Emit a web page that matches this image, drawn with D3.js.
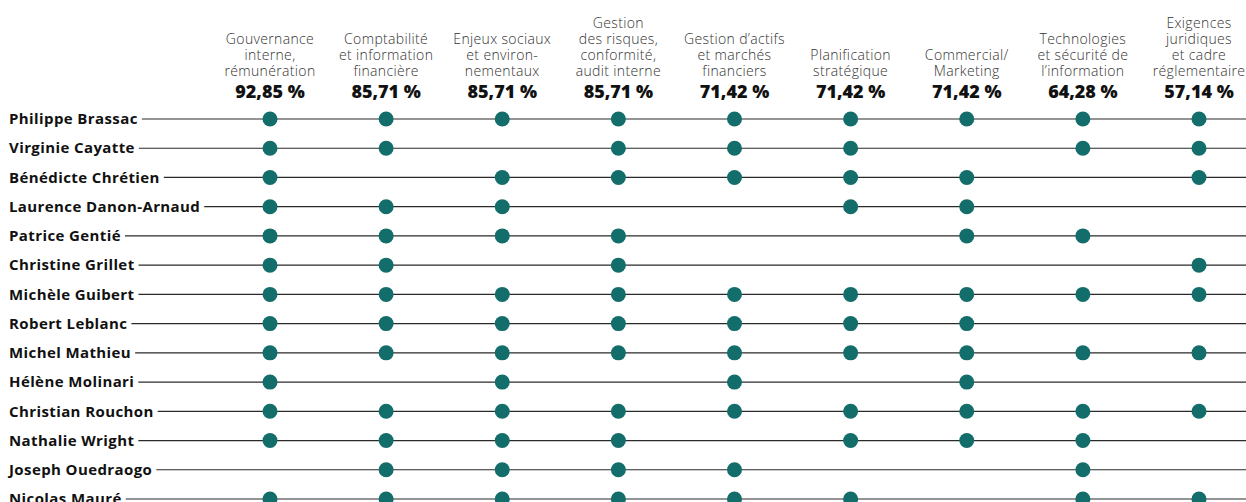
<!DOCTYPE html>
<html><head><meta charset="utf-8">
<script src="https://cdn.jsdelivr.net/npm/d3@7/dist/d3.min.js"></script>
<style>
html,body{margin:0;padding:0;background:#fff;}
svg{display:block;}
</style></head>
<body>
<svg id="chart" width="1246" height="502"></svg>
<script>
const categories = [
  ["Gouvernance","interne,","rémunération"],
  ["Comptabilité","et information","financière"],
  ["Enjeux sociaux","et environ-","nementaux"],
  ["Gestion","des risques,","conformité,","audit interne"],
  ["Gestion d’actifs","et marchés","financiers"],
  ["Planification","stratégique"],
  ["Commercial/","Marketing"],
  ["Technologies","et sécurité de","l’information"],
  ["Exigences","juridiques","et cadre","réglementaire"]
];
const percentages = ["92,85 %","85,71 %","85,71 %","85,71 %","71,42 %","71,42 %","71,42 %","64,28 %","57,14 %"];
const members = [
  "Philippe Brassac","Virginie Cayatte","Bénédicte Chrétien","Laurence Danon-Arnaud",
  "Patrice Gentié","Christine Grillet","Michèle Guibert","Robert Leblanc",
  "Michel Mathieu","Hélène Molinari","Christian Rouchon","Nathalie Wright",
  "Joseph Ouedraogo","Nicolas Mauré"
];
// 1 = competence present, per category (same order as categories)
const competences = [
  [1,1,1,1,1,1,1,1,1],
  [1,1,0,1,1,1,0,1,1],
  [1,0,1,1,1,1,1,0,1],
  [1,1,1,0,0,1,1,0,0],
  [1,1,1,1,0,0,1,1,0],
  [1,1,0,1,0,0,0,0,1],
  [1,1,1,1,1,1,1,1,1],
  [1,1,1,1,1,1,1,0,0],
  [1,1,1,1,1,1,1,1,1],
  [1,0,1,0,1,0,1,0,0],
  [1,1,1,1,1,1,1,1,1],
  [1,1,1,1,0,1,1,1,0],
  [0,1,1,1,1,0,0,1,0],
  [1,1,1,1,1,1,0,1,1]
];

const svg = d3.select("#chart");
const W = 1246;
const x = d3.scalePoint().domain(d3.range(categories.length)).range([270, 1199]);
const y = d3.scalePoint().domain(members).range([119, 499]);
const teal = "#136d6b";
const font = "'Open Sans', sans-serif";

// header labels
const hdr = svg.append("g");
categories.forEach((lines, i) => {
  const n = lines.length;
  const t = hdr.append("text")
    .attr("x", x(i)).attr("text-anchor", "middle")
    .attr("font-family", font)
    .attr("font-weight", 300).attr("font-size", 14)
    .attr("letter-spacing", 0.35)
    .attr("fill", "#333");
  lines.forEach((l, j) => {
    t.append("tspan").attr("x", x(i)).attr("y", 76 - (n - 1 - j) * 16).text(l);
  });
  hdr.append("text")
    .attr("x", x(i)).attr("y", 98).attr("text-anchor", "middle")
    .attr("font-family", font)
    .attr("font-weight", 800).attr("font-size", 18)
    .attr("fill", "#111").text(percentages[i]);
});

// rows
const rows = svg.append("g").selectAll("g").data(members).join("g")
  .attr("transform", d => `translate(0,${y(d)})`);

rows.each(function(name, ri) {
  const g = d3.select(this);
  const label = g.append("text")
    .attr("x", 9).attr("y", 0).attr("dy", "0.35em")
    .attr("font-family", font)
    .attr("font-weight", 700).attr("font-size", 15)
    .attr("letter-spacing", 0.4)
    .attr("fill", "#111").text(name);
  const w = label.node().getComputedTextLength();
  g.insert("line", "text")
    .attr("x1", 9 + w + 4).attr("x2", W)
    .attr("y1", 0).attr("y2", 0)
    .attr("stroke", "#2a2a2a").attr("stroke-width", 1.2);
  g.selectAll("circle").data(competences[ri].map((v, i) => ({v, i})).filter(d => d.v))
    .join("circle")
    .attr("cx", d => x(d.i)).attr("cy", 0).attr("r", 7.5)
    .attr("fill", teal);
});
</script>
</body></html>
